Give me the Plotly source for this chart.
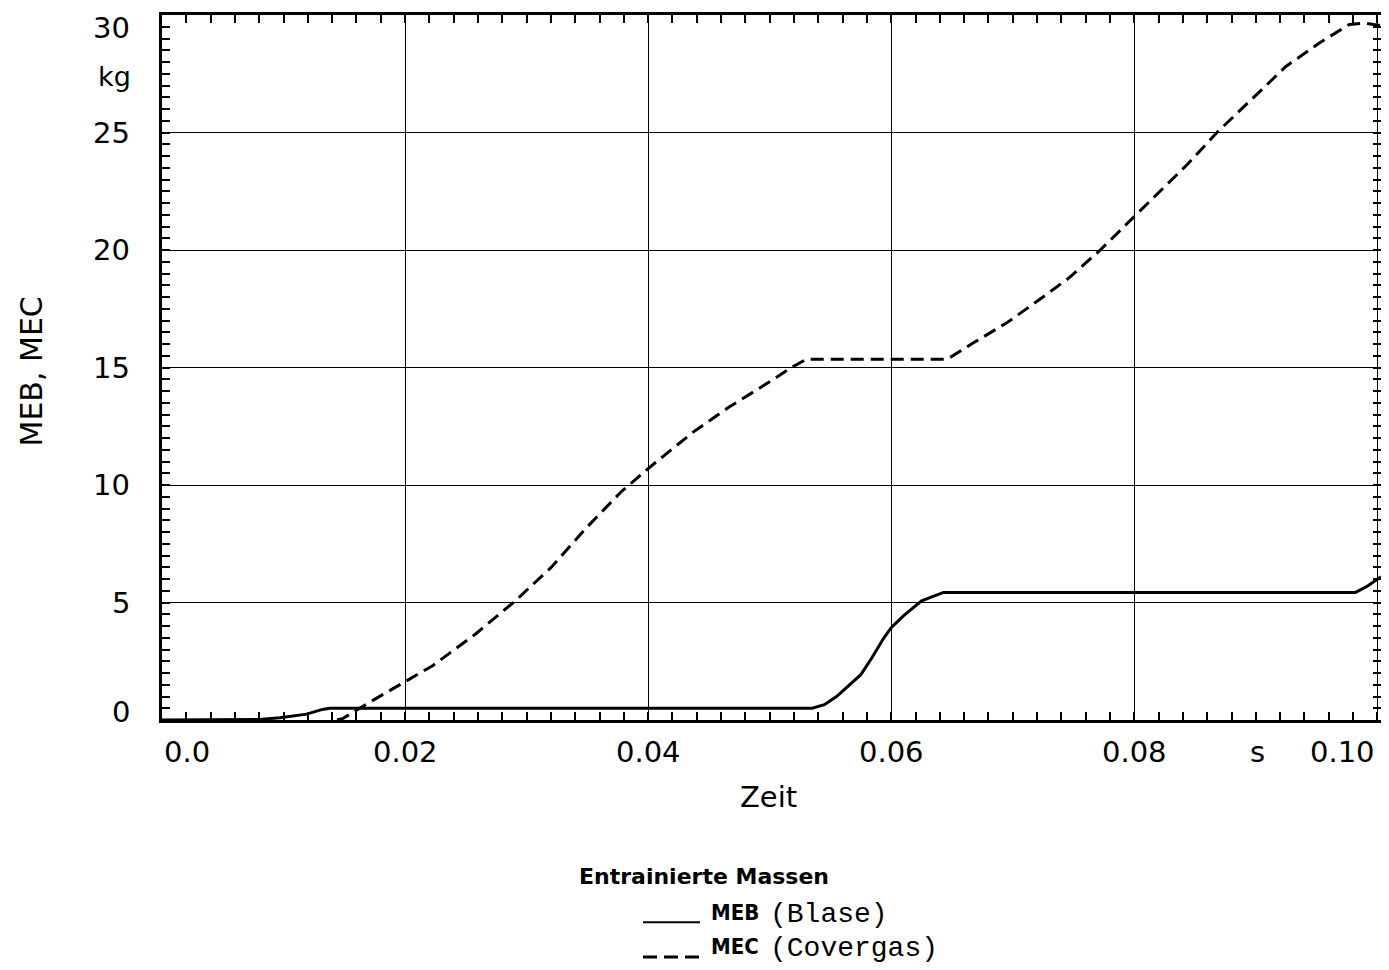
import plotly.graph_objects as go

# ---- data ----
meb_t = [0.0, 0.008, 0.0097, 0.0119, 0.0132, 0.0138, 0.0535, 0.0545, 0.0555, 0.0575,
         0.0584, 0.0594, 0.0600, 0.0610, 0.0625, 0.0643, 0.0982, 0.0992, 0.1003]
meb_v = [0.0, 0.02, 0.10, 0.25, 0.45, 0.50, 0.50, 0.65, 1.00, 1.93,
         2.64, 3.50, 3.93, 4.43, 5.07, 5.43, 5.43, 5.70, 6.10]

mec_t = [0.0144, 0.0149, 0.0169, 0.0200, 0.0223, 0.0258, 0.0290, 0.0320, 0.0349, 0.0378,
         0.0400, 0.0437, 0.0466, 0.0495, 0.0518, 0.0530, 0.0646, 0.0668, 0.0695, 0.0722,
         0.0746, 0.0772, 0.0800, 0.0822, 0.0844, 0.0868, 0.0898, 0.0925, 0.0952, 0.0977,
         0.0990, 0.1003]
mec_v = [0.0, 0.07, 0.70, 1.62, 2.32, 3.66, 5.04, 6.48, 8.17, 9.72,
         10.70, 12.25, 13.30, 14.23, 15.00, 15.35, 15.35, 16.06, 16.90, 17.89,
         18.80, 20.00, 21.41, 22.54, 23.66, 25.00, 26.48, 27.82, 28.80, 29.60,
         29.65, 29.55]

x_ticks = [0.0, 0.02, 0.04, 0.06, 0.08, 0.10]
x_tick_labels = ["0.0", "0.02", "0.04", "0.06", "0.08", "0.10"]
y_ticks = [0, 5, 10, 15, 20, 25, 30]
y_tick_labels = ["0", "5", "10", "15", "20", "25", "30"]

X_MAX = 0.1003
Y_MAX = 30

FONT = "DejaVu Sans"
# The page body has an 8px margin, so the figure is drawn 8px smaller and
# all layout positions below are given in reference-page pixels minus 8.
OFF = 8
W, H = 1389 - OFF, 970 - OFF
ML, MT = 162 - OFF, 12 - OFF
MR = W - (1381 - OFF)
MB = H - (720 - OFF)
PW, PH = W - ML - MR, H - MT - MB


def px(xp):
    """reference page x pixel -> paper coordinate"""
    return (xp - OFF - ML) / PW


def py(yp):
    """reference page y pixel -> paper coordinate"""
    return (H - MB - (yp - OFF)) / PH


fig = go.Figure()
fig.add_trace(go.Scatter(x=meb_t, y=meb_v, mode="lines", name="MEB (Blase)",
                         line=dict(color="black", width=3), showlegend=False))
fig.add_trace(go.Scatter(x=mec_t, y=mec_v, mode="lines", name="MEC (Covergas)",
                         line=dict(color="black", width=3, dash="13px,7px"), showlegend=False))

axis_common = dict(
    showline=True, linecolor="black", linewidth=3, mirror="allticks",
    showgrid=True, gridcolor="black", gridwidth=1.2,
    zeroline=False, showticklabels=False,
    ticks="inside", ticklen=8, tickwidth=2, tickcolor="black",
)
fig.update_xaxes(range=[0, X_MAX], tick0=0, dtick=0.02,
                 minor=dict(dtick=0.002, ticks="inside", ticklen=8, tickwidth=2,
                            tickcolor="black", showgrid=False),
                 **axis_common)
fig.update_yaxes(range=[0, Y_MAX], tick0=0, dtick=5,
                 minor=dict(dtick=0.5, ticks="inside", ticklen=8, tickwidth=2,
                            tickcolor="black", showgrid=False),
                 **axis_common)

ann = []
# x tick labels
for v, lab in zip(x_ticks, x_tick_labels):
    if v == 0:
        xa = "left"
    elif v >= 0.1:
        xa = "right"
    else:
        xa = "center"
    ann.append(dict(x=min(v, X_MAX), y=py(752), xref="x", yref="paper", text=lab,
                    showarrow=False, xanchor=xa, yanchor="middle",
                    font=dict(family=FONT, size=29, color="black")))
ann.append(dict(x=0.0901, y=py(752), xref="x", yref="paper", text="s",
                showarrow=False, xanchor="center", yanchor="middle",
                font=dict(family=FONT, size=29, color="black")))
# y tick labels
for v, lab in zip(y_ticks, y_tick_labels):
    yshift = 0
    if v == 30:
        yshift = -13
    elif v == 0:
        yshift = 8
    ann.append(dict(x=px(132), y=v, xref="paper", yref="y", text=lab,
                    showarrow=False, xanchor="right", yanchor="middle", yshift=yshift,
                    font=dict(family=FONT, size=29, color="black")))
ann.append(dict(x=px(133), y=py(74), xref="paper", yref="paper", text="kg",
                showarrow=False, xanchor="right", yanchor="middle",
                font=dict(family=FONT, size=27, color="black")))
# axis titles
ann.append(dict(x=px(768), y=py(797), xref="paper", yref="paper", text="Zeit",
                showarrow=False, xanchor="center", yanchor="middle",
                font=dict(family=FONT, size=29, color="black")))
ann.append(dict(x=px(31), y=py(370), xref="paper", yref="paper", text="MEB, MEC",
                showarrow=False, xanchor="center", yanchor="middle", textangle=-90,
                font=dict(family=FONT, size=30, color="black")))
# legend block
LEG_BOLD = "Liberation Sans Narrow, DejaVu Sans Condensed, DejaVu Sans"
ann.append(dict(x=px(577), y=py(877), xref="paper", yref="paper",
                text="<b>Entrainierte Massen</b>",
                showarrow=False, xanchor="left", yanchor="middle",
                font=dict(family=FONT, size=22, color="black")))
ann.append(dict(x=px(709), y=py(913), xref="paper", yref="paper", text="<b>MEB</b>",
                showarrow=False, xanchor="left", yanchor="middle",
                font=dict(family=LEG_BOLD, size=22, color="black")))
ann.append(dict(x=px(768), y=py(915), xref="paper", yref="paper", text="(Blase)",
                showarrow=False, xanchor="left", yanchor="middle",
                font=dict(family="Liberation Mono", size=28, color="black")))
ann.append(dict(x=px(709), y=py(947), xref="paper", yref="paper", text="<b>MEC</b>",
                showarrow=False, xanchor="left", yanchor="middle",
                font=dict(family=LEG_BOLD, size=22, color="black")))
ann.append(dict(x=px(768), y=py(949), xref="paper", yref="paper", text="(Covergas)",
                showarrow=False, xanchor="left", yanchor="middle",
                font=dict(family="Liberation Mono", size=28, color="black")))

shapes = [
    dict(type="line", xref="paper", yref="paper", x0=px(643), x1=px(700),
         y0=py(923), y1=py(923), line=dict(color="black", width=2)),
    dict(type="line", xref="paper", yref="paper", x0=px(643), x1=px(700),
         y0=py(958), y1=py(958), line=dict(color="black", width=3, dash="14px,7px")),
]

fig.update_layout(
    width=W, height=H,
    margin=dict(l=ML, r=MR, t=MT, b=MB),
    paper_bgcolor="white", plot_bgcolor="white",
    showlegend=False,
    annotations=ann, shapes=shapes,
    font=dict(family=FONT, color="black"),
)

fig.write_html("out.html")
